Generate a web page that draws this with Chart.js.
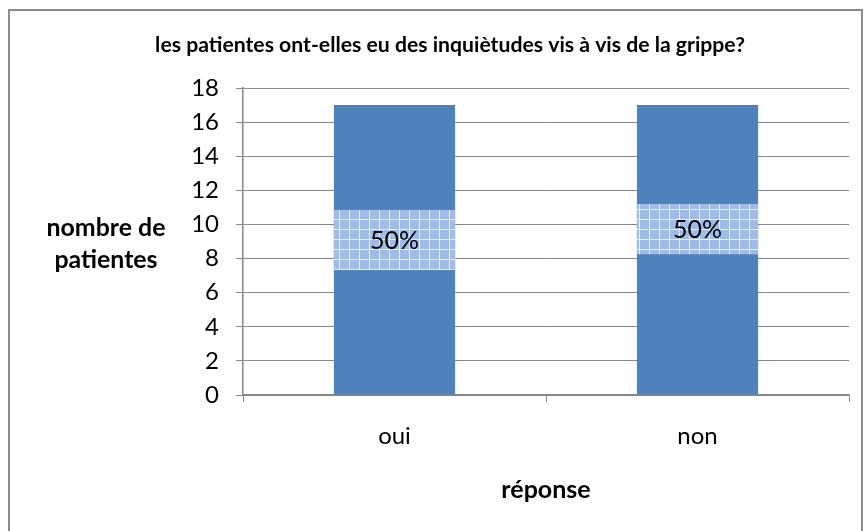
<!DOCTYPE html>
<html><head><meta charset="utf-8">
<script src="https://cdn.jsdelivr.net/npm/chart.js@4"></script>
<style>html,body{margin:0;padding:0;background:#fff}#c{display:block}</style>
</head><body>
<canvas id="c" width="866" height="531"></canvas>
<script>
const categories = ['oui', 'non'];
const values = [17, 17];
const labelTexts = ['50%', '50%'];
const chartTitle = 'les patientes ont-elles eu des inquiètudes vis à vis de la grippe?';
const yTitleLines = ['nombre de', 'patientes'];
const xTitle = 'réponse';

function makePattern() {
  const p = document.createElement('canvas');
  p.width = 10; p.height = 10;
  const g = p.getContext('2d');
  g.fillStyle = '#adc4e7';
  g.fillRect(0, 0, 10, 10);
  g.fillStyle = '#97b2de';
  for (let y = 0; y < 9; y++) for (let x = 0; x < 9; x++) if ((x + y) % 2 === 0) g.fillRect(x, y, 1, 1);
  g.fillStyle = '#e8eff9';
  g.fillRect(0, 9, 10, 1);
  g.fillRect(9, 0, 1, 10);
  return g.createPattern(p, 'repeat');
}

function fitFont(ctx, text, weight, family, targetW) {
  let size = 30;
  ctx.font = weight + ' ' + size + 'px ' + family;
  const w = ctx.measureText(text).width;
  size = size * targetW / w;
  return weight + ' ' + size.toFixed(2) + 'px ' + family;
}

const decor = {
  id: 'decor',
  beforeDraw(chart) {
    const ctx = chart.ctx;
    ctx.save();
    ctx.fillStyle = '#fff';
    ctx.fillRect(0, 0, chart.width, chart.height);
    ctx.strokeStyle = '#8c8c8c';
    ctx.lineWidth = 2;
    ctx.strokeRect(9, 10, 853, 560);
    ctx.restore();
  },
  afterDraw(chart, args, opts) {
    const ctx = chart.ctx;
    ctx.save();
    ctx.fillStyle = '#000';
    ctx.textAlign = 'center';
    ctx.textBaseline = 'middle';
    ctx.font = fitFont(ctx, chartTitle, 'bold', 'Lato', 590);
    ctx.fillText(chartTitle, 450, 45);
    ctx.font = fitFont(ctx, yTitleLines[0], 'bold', 'Lato', 119);
    ctx.fillText(yTitleLines[0], 106, 228);
    ctx.fillText(yTitleLines[1], 106, 260);
    const meta = chart.getDatasetMeta(0);
    const ys = chart.scales.y;
    const pat = makePattern();
    meta.data.forEach((bar, i) => {
      const box = opts.boxes[i];
      const half = bar.width / 2;
      const top = ys.getPixelForValue(box[1]);
      const bot = ys.getPixelForValue(box[0]);
      ctx.fillStyle = pat;
      ctx.fillRect(bar.x - half, top, bar.width, bot - top);
      ctx.fillStyle = '#000';
      ctx.font = fitFont(ctx, labelTexts[i], 'normal', 'Lato', 49);
      ctx.fillText(labelTexts[i], bar.x, (top + bot) / 2 + 1);
    });
    ctx.restore();
  }
};

const gridColor = '#878787';
new Chart(document.getElementById('c'), {
  type: 'bar',
  data: {
    labels: categories,
    datasets: [{
      data: values,
      backgroundColor: '#4f81bd',
      borderWidth: 0,
      categoryPercentage: 0.4,
      barPercentage: 1
    }]
  },
  plugins: [decor],
  options: {
    responsive: false,
    animation: false,
    devicePixelRatio: 1,
    layout: { padding: { top: 88, right: 17, left: 0, bottom: 0 } },
    plugins: {
      legend: { display: false },
      tooltip: { enabled: false },
      title: { display: false },
      decor: { boxes: [[7.33, 10.85], [8.25, 11.2]] }
    },
    scales: {
      x: {
        offset: true,
        grid: { offset: true, drawOnChartArea: false, drawTicks: true, tickLength: 7, color: gridColor },
        border: { color: gridColor, width: 1.5 },
        ticks: { font: { family: 'Lato', size: 24 }, color: '#000', padding: 20 },
        title: { display: true, text: xTitle, color: '#000', font: { family: 'Lato', size: 25, weight: 'bold' }, padding: { top: 26, bottom: 26 } },
        afterFit(s) { s.height = 136; }
      },
      y: {
        min: 0, max: 18,
        ticks: { stepSize: 2, font: { family: 'Lato', size: 24 }, color: '#000', padding: 17 },
        grid: { color: gridColor, tickLength: 7 },
        border: { color: gridColor, width: 1.5 },
        afterFit(s) { s.width = 243; }
      }
    }
  }
});
</script>
</body></html>
